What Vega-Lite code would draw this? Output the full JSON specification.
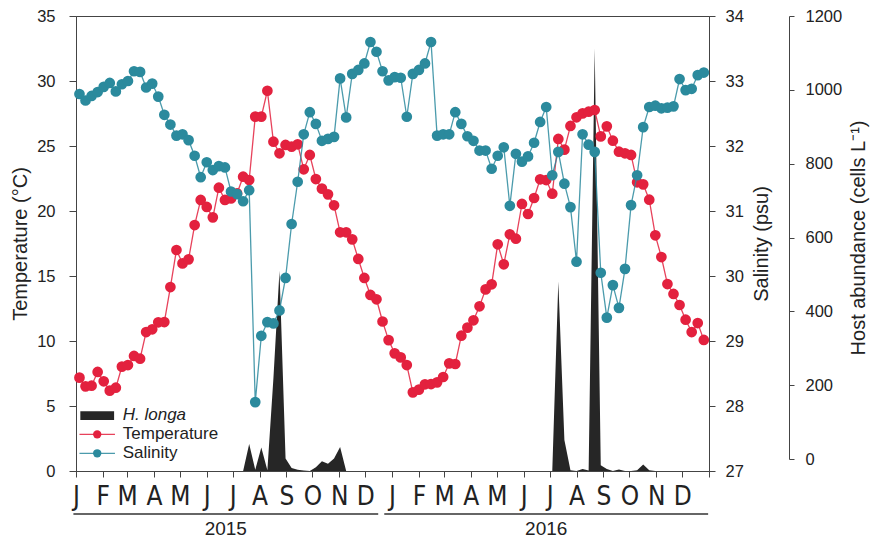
{
  "$schema": "https://vega.github.io/schema/vega-lite/v6.json",
  "width": 633,
  "height": 455,
  "autosize": "none",
  "padding": {"left": 76, "top": 16, "right": 161, "bottom": 71},
  "background": "white",
  "config": {
    "font": "Liberation Sans",
    "view": {"stroke": "#444", "strokeWidth": 1},
    "axis": {"domainColor": "#444", "tickColor": "#444", "labelColor": "#222", "titleColor": "#222", "grid": false, "labelFont": "Liberation Sans", "titleFont": "Liberation Sans", "titleFontWeight": "normal", "labelFontSize": 16.5, "titleFontSize": 20}
  },
  "datasets": {
    "obs": [
      {"date": "2015-01-05", "temp": 7.18, "sal": 32.80, "host": 0},
      {"date": "2015-01-12", "temp": 6.51, "sal": 32.70, "host": 0},
      {"date": "2015-01-19", "temp": 6.56, "sal": 32.77, "host": 0},
      {"date": "2015-01-26", "temp": 7.62, "sal": 32.83, "host": 0},
      {"date": "2015-02-02", "temp": 6.90, "sal": 32.91, "host": 0},
      {"date": "2015-02-09", "temp": 6.18, "sal": 32.97, "host": 0},
      {"date": "2015-02-16", "temp": 6.41, "sal": 32.84, "host": 0},
      {"date": "2015-02-23", "temp": 8.03, "sal": 32.95, "host": 0},
      {"date": "2015-03-02", "temp": 8.15, "sal": 33.00, "host": 0},
      {"date": "2015-03-09", "temp": 8.85, "sal": 33.15, "host": 0},
      {"date": "2015-03-16", "temp": 8.64, "sal": 33.14, "host": 0},
      {"date": "2015-03-23", "temp": 10.69, "sal": 32.90, "host": 0},
      {"date": "2015-03-30", "temp": 10.90, "sal": 32.96, "host": 0},
      {"date": "2015-04-06", "temp": 11.44, "sal": 32.76, "host": 0},
      {"date": "2015-04-13", "temp": 11.46, "sal": 32.48, "host": 0},
      {"date": "2015-04-20", "temp": 14.15, "sal": 32.33, "host": 0},
      {"date": "2015-04-27", "temp": 17.00, "sal": 32.16, "host": 0},
      {"date": "2015-05-04", "temp": 15.97, "sal": 32.18, "host": 0},
      {"date": "2015-05-11", "temp": 16.28, "sal": 32.09, "host": 0},
      {"date": "2015-05-18", "temp": 18.92, "sal": 31.85, "host": 0},
      {"date": "2015-05-25", "temp": 20.85, "sal": 31.52, "host": 0},
      {"date": "2015-06-01", "temp": 20.31, "sal": 31.75, "host": 0},
      {"date": "2015-06-08", "temp": 19.51, "sal": 31.63, "host": 0},
      {"date": "2015-06-15", "temp": 21.79, "sal": 31.69, "host": 0},
      {"date": "2015-06-22", "temp": 20.85, "sal": 31.67, "host": 0},
      {"date": "2015-06-29", "temp": 20.97, "sal": 31.30, "host": 0},
      {"date": "2015-07-06", "temp": 21.36, "sal": 31.26, "host": 0},
      {"date": "2015-07-13", "temp": 22.64, "sal": 31.15, "host": 0},
      {"date": "2015-07-20", "temp": 22.38, "sal": 31.32, "host": 71},
      {"date": "2015-07-27", "temp": 27.26, "sal": 28.06, "host": 3},
      {"date": "2015-08-03", "temp": 27.26, "sal": 29.08, "host": 62},
      {"date": "2015-08-10", "temp": 29.25, "sal": 29.29, "host": 2},
      {"date": "2015-08-17", "temp": 25.33, "sal": 29.27, "host": 245},
      {"date": "2015-08-24", "temp": 24.44, "sal": 29.47, "host": 528},
      {"date": "2015-08-31", "temp": 25.08, "sal": 29.97, "host": 33},
      {"date": "2015-09-07", "temp": 24.95, "sal": 30.80, "host": 8},
      {"date": "2015-09-14", "temp": 25.13, "sal": 31.45, "host": 3},
      {"date": "2015-09-21", "temp": 23.21, "sal": 32.18, "host": 1},
      {"date": "2015-09-28", "temp": 24.31, "sal": 32.52, "host": 0},
      {"date": "2015-10-05", "temp": 22.46, "sal": 32.34, "host": 10},
      {"date": "2015-10-12", "temp": 21.72, "sal": 32.08, "host": 26},
      {"date": "2015-10-19", "temp": 21.28, "sal": 32.11, "host": 19},
      {"date": "2015-10-26", "temp": 20.44, "sal": 32.14, "host": 33},
      {"date": "2015-11-02", "temp": 18.36, "sal": 33.04, "host": 63},
      {"date": "2015-11-09", "temp": 18.36, "sal": 32.44, "host": 0},
      {"date": "2015-11-16", "temp": 17.82, "sal": 33.11, "host": 0},
      {"date": "2015-11-23", "temp": 16.31, "sal": 33.17, "host": 0},
      {"date": "2015-11-30", "temp": 14.85, "sal": 33.27, "host": 0},
      {"date": "2015-12-07", "temp": 13.54, "sal": 33.60, "host": 0},
      {"date": "2015-12-14", "temp": 13.21, "sal": 33.45, "host": 0},
      {"date": "2015-12-21", "temp": 11.50, "sal": 33.15, "host": 0},
      {"date": "2015-12-28", "temp": 10.07, "sal": 33.01, "host": 0},
      {"date": "2016-01-04", "temp": 9.05, "sal": 33.06, "host": 0},
      {"date": "2016-01-11", "temp": 8.74, "sal": 33.05, "host": 0},
      {"date": "2016-01-18", "temp": 8.15, "sal": 32.45, "host": 0},
      {"date": "2016-01-25", "temp": 6.05, "sal": 33.11, "host": 0},
      {"date": "2016-02-01", "temp": 6.26, "sal": 33.17, "host": 0},
      {"date": "2016-02-08", "temp": 6.67, "sal": 33.27, "host": 0},
      {"date": "2016-02-15", "temp": 6.69, "sal": 33.60, "host": 0},
      {"date": "2016-02-22", "temp": 6.82, "sal": 32.16, "host": 0},
      {"date": "2016-02-29", "temp": 7.23, "sal": 32.18, "host": 0},
      {"date": "2016-03-07", "temp": 8.28, "sal": 32.18, "host": 0},
      {"date": "2016-03-14", "temp": 8.23, "sal": 32.52, "host": 0},
      {"date": "2016-03-21", "temp": 10.41, "sal": 32.34, "host": 0},
      {"date": "2016-03-28", "temp": 11.03, "sal": 32.15, "host": 0},
      {"date": "2016-04-04", "temp": 11.59, "sal": 32.08, "host": 0},
      {"date": "2016-04-11", "temp": 12.67, "sal": 31.93, "host": 0},
      {"date": "2016-04-18", "temp": 13.97, "sal": 31.93, "host": 0},
      {"date": "2016-04-25", "temp": 14.36, "sal": 31.65, "host": 0},
      {"date": "2016-05-02", "temp": 17.44, "sal": 31.85, "host": 0},
      {"date": "2016-05-09", "temp": 15.90, "sal": 31.98, "host": 0},
      {"date": "2016-05-16", "temp": 18.21, "sal": 31.08, "host": 0},
      {"date": "2016-05-23", "temp": 17.87, "sal": 31.88, "host": 0},
      {"date": "2016-05-30", "temp": 20.54, "sal": 31.76, "host": 0},
      {"date": "2016-06-06", "temp": 19.77, "sal": 31.84, "host": 0},
      {"date": "2016-06-13", "temp": 21.00, "sal": 32.05, "host": 0},
      {"date": "2016-06-20", "temp": 22.44, "sal": 32.37, "host": 0},
      {"date": "2016-06-27", "temp": 22.38, "sal": 32.60, "host": 0},
      {"date": "2016-07-04", "temp": 21.33, "sal": 31.55, "host": 0},
      {"date": "2016-07-11", "temp": 25.54, "sal": 31.91, "host": 500},
      {"date": "2016-07-18", "temp": 24.72, "sal": 31.42, "host": 82},
      {"date": "2016-07-25", "temp": 26.54, "sal": 31.06, "host": 2},
      {"date": "2016-08-01", "temp": 27.21, "sal": 30.22, "host": 0},
      {"date": "2016-08-08", "temp": 27.51, "sal": 32.18, "host": 5},
      {"date": "2016-08-15", "temp": 27.64, "sal": 32.02, "host": 1},
      {"date": "2016-08-22", "temp": 27.77, "sal": 31.91, "host": 1115},
      {"date": "2016-08-29", "temp": 25.74, "sal": 30.05, "host": 15},
      {"date": "2016-09-05", "temp": 26.51, "sal": 29.36, "host": 5},
      {"date": "2016-09-12", "temp": 25.41, "sal": 29.86, "host": 0},
      {"date": "2016-09-19", "temp": 24.56, "sal": 29.51, "host": 4},
      {"date": "2016-09-26", "temp": 24.44, "sal": 30.11, "host": 0},
      {"date": "2016-10-03", "temp": 24.31, "sal": 31.09, "host": 0},
      {"date": "2016-10-10", "temp": 22.21, "sal": 31.55, "host": 2},
      {"date": "2016-10-17", "temp": 22.05, "sal": 32.29, "host": 17},
      {"date": "2016-10-24", "temp": 20.87, "sal": 32.60, "host": 2},
      {"date": "2016-10-31", "temp": 18.13, "sal": 32.62, "host": 0},
      {"date": "2016-11-07", "temp": 16.46, "sal": 32.58, "host": 0},
      {"date": "2016-11-14", "temp": 14.38, "sal": 32.59, "host": 0},
      {"date": "2016-11-21", "temp": 13.62, "sal": 32.61, "host": 0},
      {"date": "2016-11-28", "temp": 12.77, "sal": 33.03, "host": 0},
      {"date": "2016-12-05", "temp": 11.64, "sal": 32.86, "host": 0},
      {"date": "2016-12-12", "temp": 10.69, "sal": 32.88, "host": 0},
      {"date": "2016-12-19", "temp": 11.38, "sal": 33.09, "host": 0},
      {"date": "2016-12-26", "temp": 10.08, "sal": 33.13, "host": 0}
    ],
    "years": [
      {"year": "2015", "start": "2014-12-29", "end": "2015-12-16", "mid": "2015-06-23"},
      {"year": "2016", "start": "2015-12-23", "end": "2016-12-31", "mid": "2016-06-27"}
    ]
  },
  "layer": [
    {
      "data": {"name": "obs"},
      "mark": {"type": "area", "interpolate": "linear", "color": "#262626", "opacity": 1},
      "encoding": {
        "x": {
          "field": "date", "type": "temporal",
          "scale": {"type": "utc", "domain": [{"year": 2015, "month": 1, "date": 1, "utc": true}, {"year": 2017, "month": 1, "date": 1, "utc": true}]},
          "axis": {
            "title": null,
            "tickCount": {"interval": "month", "step": 1},
            "labelExpr": "utcyear(datum.value) >= 2017 ? '' : substring(utcFormat(datum.value, '%b'), 0, 1)",
            "labelFont": "DejaVu Sans Condensed, Liberation Sans",
            "labelFontSize": 26,
            "labelColor": "#222",
            "tickSize": 6,
            "labelPadding": 6,
            "labelFlush": false,
            "labelOverlap": false,
            "labelBound": false
          }
        },
        "y": {"field": "host", "type": "quantitative", "scale": {"domain": [0, 1200]}, "axis": null}
      }
    },
    {
      "data": {"name": "obs"},
      "mark": {"type": "point", "opacity": 0},
      "encoding": {
        "x": {"field": "date", "type": "temporal"},
        "y": {
          "field": "host", "type": "quantitative",
          "scale": {"domain": [0, 1200], "range": [443, 0]},
          "axis": {
            "orient": "right", "offset": 80,
            "values": [0, 200, 400, 600, 800, 1000, 1200],
            "format": "d",
            "title": "Host abundance (cells L⁻¹)",
            "titleAngle": 270,
            "titleBaseline": "top",
            "tickSize": 5,
            "labelPadding": 11,
            "titlePadding": 7
          }
        }
      }
    },
    {
      "layer": [
        {
          "data": {"name": "obs"},
          "mark": {"type": "line", "strokeWidth": 1.3, "color": "#e3213e", "opacity": 0.85},
          "encoding": {
            "x": {"field": "date", "type": "temporal"},
            "y": {
              "field": "temp", "type": "quantitative",
              "scale": {"domain": [0, 35]},
              "axis": {
                "orient": "left",
                "values": [0, 5, 10, 15, 20, 25, 30, 35],
                "format": "d",
                "title": "Temperature (°C)",
                "tickSize": 7,
                "labelPadding": 14,
                "titlePadding": 6
              }
            }
          }
        },
        {
          "data": {"name": "obs"},
          "mark": {"type": "point", "filled": true, "size": 115, "color": "#e3213e", "opacity": 1},
          "encoding": {
            "x": {"field": "date", "type": "temporal"},
            "y": {"field": "temp", "type": "quantitative"}
          }
        },
        {
          "data": {"name": "years", "format": {"parse": {"start": "date", "end": "date", "mid": "date"}}},
          "mark": {"type": "rule", "strokeWidth": 1.5, "color": "#333"},
          "encoding": {
            "x": {"field": "start", "type": "temporal"},
            "x2": {"field": "end"},
            "y": {"datum": -3.3}
          }
        },
        {
          "data": {"name": "years", "format": {"parse": {"start": "date", "end": "date", "mid": "date"}}},
          "mark": {"type": "text", "fontSize": 19, "color": "#222", "font": "Liberation Sans", "baseline": "middle", "align": "center"},
          "encoding": {
            "x": {"field": "mid", "type": "temporal"},
            "y": {"datum": -4.45},
            "text": {"field": "year"}
          }
        },
        {
          "data": {"values": [{}]},
          "mark": {"type": "rect", "color": "#262626"},
          "encoding": {
            "x": {"datum": {"year": 2015, "month": 1, "date": 6, "utc": true}, "type": "temporal"},
            "x2": {"datum": {"year": 2015, "month": 2, "date": 14, "utc": true}},
            "y": {"datum": 4.6},
            "y2": {"datum": 3.93}
          }
        },
        {
          "data": {"values": [{}]},
          "mark": {"type": "rule", "strokeWidth": 1.3, "color": "#e3213e", "opacity": 0.85},
          "encoding": {
            "x": {"datum": {"year": 2015, "month": 1, "date": 5, "utc": true}, "type": "temporal"},
            "x2": {"datum": {"year": 2015, "month": 2, "date": 15, "utc": true}},
            "y": {"datum": 2.82}
          }
        },
        {
          "data": {"values": [{}]},
          "mark": {"type": "rule", "strokeWidth": 1.3, "color": "#2b8a9d", "opacity": 0.85},
          "encoding": {
            "x": {"datum": {"year": 2015, "month": 1, "date": 5, "utc": true}, "type": "temporal"},
            "x2": {"datum": {"year": 2015, "month": 2, "date": 15, "utc": true}},
            "y": {"datum": 1.36}
          }
        },
        {
          "data": {"values": [{}]},
          "mark": {"type": "point", "filled": true, "size": 70, "color": "#e3213e", "opacity": 1},
          "encoding": {
            "x": {"datum": {"year": 2015, "month": 1, "date": 25, "hours": 12, "utc": true}, "type": "temporal"},
            "y": {"datum": 2.82}
          }
        },
        {
          "data": {"values": [{}]},
          "mark": {"type": "point", "filled": true, "size": 70, "color": "#2b8a9d", "opacity": 1},
          "encoding": {
            "x": {"datum": {"year": 2015, "month": 1, "date": 25, "hours": 12, "utc": true}, "type": "temporal"},
            "y": {"datum": 1.36}
          }
        },
        {
          "data": {"values": [{}]},
          "mark": {"type": "text", "text": "H. longa", "fontStyle": "italic", "fontSize": 17, "color": "#222", "font": "Liberation Sans", "align": "left", "baseline": "middle"},
          "encoding": {
            "x": {"datum": {"year": 2015, "month": 2, "date": 24, "utc": true}, "type": "temporal"},
            "y": {"datum": 4.27}
          }
        },
        {
          "data": {"values": [{}]},
          "mark": {"type": "text", "text": "Temperature", "fontSize": 17, "color": "#222", "font": "Liberation Sans", "align": "left", "baseline": "middle"},
          "encoding": {
            "x": {"datum": {"year": 2015, "month": 2, "date": 24, "utc": true}, "type": "temporal"},
            "y": {"datum": 2.82}
          }
        },
        {
          "data": {"values": [{}]},
          "mark": {"type": "text", "text": "Salinity", "fontSize": 17, "color": "#222", "font": "Liberation Sans", "align": "left", "baseline": "middle"},
          "encoding": {
            "x": {"datum": {"year": 2015, "month": 2, "date": 24, "utc": true}, "type": "temporal"},
            "y": {"datum": 1.36}
          }
        }
      ]
    },
    {
      "layer": [
        {
          "data": {"name": "obs"},
          "mark": {"type": "line", "strokeWidth": 1.3, "color": "#2b8a9d", "opacity": 0.85},
          "encoding": {
            "x": {"field": "date", "type": "temporal"},
            "y": {
              "field": "sal", "type": "quantitative",
              "scale": {"domain": [27, 34]},
              "axis": {
                "orient": "right",
                "values": [27, 28, 29, 30, 31, 32, 33, 34],
                "format": "d",
                "title": "Salinity (psu)",
                "titleAngle": 270,
                "titleBaseline": "top",
                "tickSize": 6,
                "labelPadding": 10,
                "titlePadding": 8
              }
            }
          }
        },
        {
          "data": {"name": "obs"},
          "mark": {"type": "point", "filled": true, "size": 115, "color": "#2b8a9d", "opacity": 1},
          "encoding": {
            "x": {"field": "date", "type": "temporal"},
            "y": {"field": "sal", "type": "quantitative"}
          }
        }
      ]
    }
  ],
  "resolve": {"scale": {"y": "independent"}, "axis": {"y": "independent"}}
}
